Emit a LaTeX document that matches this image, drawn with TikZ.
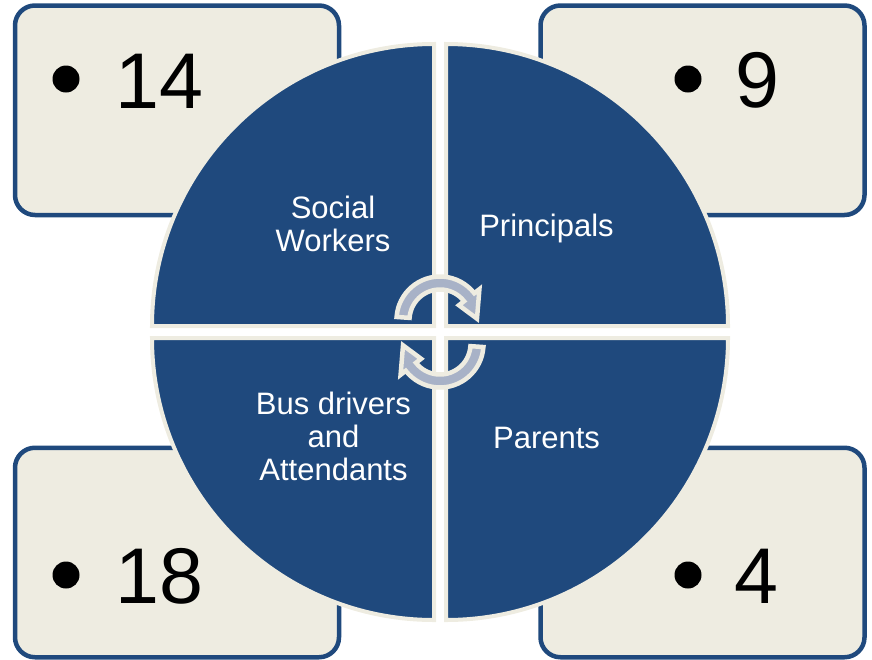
\documentclass[tikz,border=0pt]{standalone}
\usepackage{fontspec}
\setmainfont{Liberation Sans}
\definecolor{navy}{HTML}{1F497D}
\definecolor{cream}{HTML}{EEECE1}
\definecolor{arrowgray}{HTML}{A8B2C7}
\tikzset{
  numbox/.style={draw=navy, fill=cream, line width=4.5pt, rounded corners=20pt,
    minimum width=324pt, minimum height=209.5pt, inner sep=0pt},
  numtxt/.style={inner sep=0pt, anchor=base west, font=\fontsize{79}{90}\selectfont},
  bulletdot/.style={circle, fill=black, minimum size=27pt, inner sep=0pt},
  quad/.style={fill=navy, draw=cream, line width=4pt},
  quadtxt/.style={inner sep=0pt, text=white, align=center, font=\fontsize{31}{33}\selectfont},
  cyc/.style={fill=arrowgray, draw=cream, line width=4.5pt, line join=miter}
}
\newcommand\cyclearrowpath{(184:43.5) arc[start angle=184,end angle=322,radius=43.5] -- (322:50) -- (358:37) -- (322:24) -- (322:30.5) arc[start angle=322,end angle=184,radius=30.5] -- cycle}
\begin{document}
\begin{tikzpicture}[x=1pt,y=-1pt]
\useasboundingbox (0,0) rectangle (872,659);
% corner boxes
\node[numbox] (boxtl) at (177,110.25) {};
\node[numbox] (boxtr) at (702.5,110.25) {};
\node[numbox] (boxbl) at (177,552.5) {};
\node[numbox] (boxbr) at (702.5,552.5) {};
% quadrants
\draw[quad] (434,326) -- (152,326) arc[start angle=180,end angle=270,radius=282] -- cycle;
\draw[quad] (446,326) -- (446,44) arc[start angle=270,end angle=360,radius=282] -- cycle;
\draw[quad] (446,338) -- (728,338) arc[start angle=0,end angle=90,radius=282] -- cycle;
\draw[quad] (434,338) -- (434,620) arc[start angle=90,end angle=180,radius=282] -- cycle;
% cycle arrows
\begin{scope}[shift={(440,320)}]
\draw[cyc] \cyclearrowpath;
\end{scope}
\begin{scope}[shift={(440,344)},rotate=180]
\draw[cyc] \cyclearrowpath;
\end{scope}
% quadrant labels
\node[quadtxt] (qsw) at (333,224) {Social\\Workers};
\node[quadtxt,anchor=base] (qpr) at (546.5,236.5) {Principals};
\node[quadtxt] (qbus) at (333.5,436.5) {Bus drivers\\and\\Attendants};
\node[quadtxt,anchor=base] (qpa) at (546.5,448) {Parents};
% numbers
\node[bulletdot] (dtl) at (66,79) {};
\node[numtxt] (ntl) at (115,108) {14};
\node[bulletdot] (dtr) at (688,79) {};
\node[numtxt] (ntr) at (735,107) {9};
\node[bulletdot] (dbl) at (66,575) {};
\node[numtxt] (nbl) at (115,603) {18};
\node[bulletdot] (dbr) at (688,575) {};
\node[numtxt] (nbr) at (734,603) {4};
\end{tikzpicture}
\end{document}
